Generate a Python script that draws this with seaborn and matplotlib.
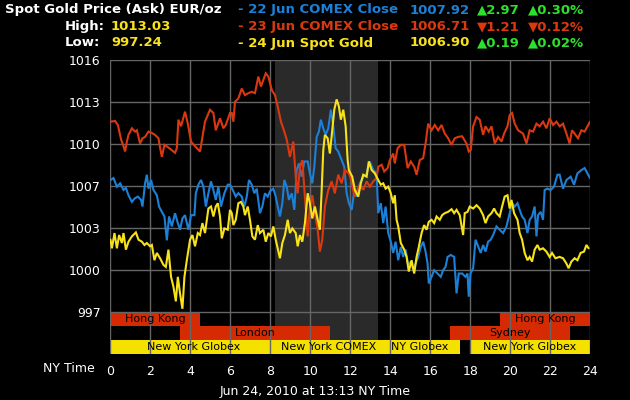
import matplotlib
matplotlib.use("Agg")
import matplotlib.pyplot as plt
import seaborn as sns
import pandas as pd

# --- data (hours NY time, EUR/oz) ---
blue_hours = [0.00, 0.15, 0.32, 0.48, 0.65, 0.77, 0.90, 1.07, 1.20, 1.37,
              1.53, 1.60, 1.73, 1.82, 1.90, 2.03, 2.15, 2.32, 2.43, 2.57,
              2.70, 2.82, 2.93, 3.07, 3.23, 3.37, 3.48, 3.60, 3.73, 3.90,
              4.03, 4.20, 4.27, 4.40, 4.53, 4.65, 4.77, 4.90, 5.03, 5.15,
              5.27, 5.40, 5.53, 5.70, 5.87,
              5.98, 6.15, 6.27, 6.40, 6.57, 6.70, 6.82, 6.93, 7.07, 7.20,
              7.32, 7.48, 7.60, 7.73, 7.87, 7.98, 8.15, 8.27, 8.37, 8.48,
              8.60, 8.70, 8.82, 8.93, 9.07, 9.20, 9.32, 9.43, 9.57, 9.70,
              9.87, 9.98, 10.10, 10.20, 10.32, 10.43, 10.53, 10.65, 10.77, 10.90,
              11.03, 11.15, 11.27, 11.40, 11.57, 11.70, 11.82, 11.93,
              12.07, 12.20, 12.32, 12.48, 12.65, 12.82, 12.98, 13.15, 13.32, 13.40,
              13.53, 13.65, 13.77, 13.90, 14.03, 14.15, 14.27, 14.40, 14.53, 14.65,
              14.77, 14.90, 15.03, 15.15, 15.27, 15.40, 15.53, 15.65, 15.77, 15.87,
              15.93, 16.07, 16.20, 16.37, 16.53, 16.65, 16.77, 16.87, 17.03, 17.20,
              17.32, 17.43, 17.60, 17.77, 17.87, 17.93,
              18.02, 18.15, 18.27, 18.40, 18.53, 18.65, 18.77, 18.90, 19.03, 19.15,
              19.32, 19.48, 19.65, 19.82, 19.98, 20.10, 20.23, 20.37, 20.48, 20.60,
              20.73, 20.87, 20.98, 21.10, 21.23, 21.32, 21.40, 21.53, 21.65, 21.73,
              21.87, 22.03, 22.20, 22.37, 22.48, 22.65, 22.82, 23.03, 23.20, 23.37,
              23.57, 23.73, 23.87, 24.00]
blue_vals = [1006.95, 1007.1, 1006.45, 1006.7, 1006.2, 1006.35, 1005.8, 1005.3, 1005.55, 1005.7,
             1005.45, 1004.95, 1006.7, 1007.35, 1006.3, 1006.95, 1006.2, 1005.8, 1004.95, 1004.55,
             1004.2, 1002.4, 1004.2, 1003.45, 1004.45, 1003.7, 1003.2, 1004.05, 1004.3, 1003.2,
             1004.3, 1004.3, 1005.95, 1006.6, 1006.95, 1006.45, 1004.95, 1005.95, 1006.85, 1006.2,
             1005.45, 1006.45, 1004.95, 1005.95, 1006.6,
             1006.6, 1006.1, 1005.7, 1005.95, 1005.7, 1004.95, 1005.7, 1006.95, 1006.6, 1005.95,
             1006.3, 1004.45, 1004.95, 1005.95, 1005.7, 1006.1, 1006.3, 1005.7, 1004.95, 1004.2,
             1005.2, 1006.95, 1006.45, 1005.45, 1005.95, 1004.7, 1007.7, 1008.2, 1007.2, 1008.35,
             1008.35, 1007.45, 1006.7, 1007.95, 1010.2, 1010.6, 1011.5, 1010.85, 1010.35, 1010.85,
             1012.25, 1011.0, 1009.35, 1009.1, 1008.45, 1007.95, 1005.95, 1005.2,
             1004.7, 1006.1, 1005.7, 1006.7, 1007.2, 1007.45, 1008.35, 1007.7, 1007.45, 1004.45,
             1005.2, 1003.7, 1004.95, 1002.95, 1002.3, 1001.45, 1002.3, 1000.9, 1001.9, 1001.15,
             1001.7, 1000.55, 1000.8, 1000.15, 1000.65, 1001.15, 1001.9, 1002.3, 1001.55, 1000.65,
             999.15, 999.65, 1000.15, 999.9, 999.65, 1000.15, 1000.4, 1001.15, 1001.3, 1001.15,
             998.4, 999.9, 999.9, 999.65, 999.9, 998.15,
             999.9, 1000.3, 1002.45, 1001.95, 1001.45, 1002.05, 1001.55, 1002.3, 1002.45, 1002.8,
             1003.45, 1003.2, 1002.95, 1003.45, 1004.45, 1005.2, 1004.95, 1005.2, 1004.7, 1004.2,
             1003.95, 1002.95, 1003.95, 1004.2, 1004.95, 1002.7, 1004.3, 1004.55, 1003.95, 1006.2,
             1006.3, 1006.2, 1006.45, 1007.35, 1007.35, 1006.3, 1006.95, 1007.2, 1006.6, 1007.45,
             1007.7, 1007.85, 1007.45, 1007.1]

red_hours = [0.00, 0.23, 0.37, 0.53, 0.65, 0.73, 0.82, 0.90, 1.07, 1.23,
             1.32, 1.48, 1.60, 1.73, 1.90, 2.07, 2.23, 2.40, 2.48, 2.57,
             2.70, 2.90, 3.07, 3.23, 3.32, 3.40, 3.53, 3.73, 3.87, 4.03,
             4.23, 4.48, 4.60, 4.73, 4.98, 5.15, 5.27, 5.48, 5.65, 5.77,
             5.98,
             6.07, 6.15, 6.23, 6.40, 6.57, 6.73, 6.90, 7.07, 7.23, 7.40,
             7.53, 7.65, 7.77, 7.90, 8.07, 8.23, 8.37, 8.53, 8.70, 8.82,
             8.98, 9.15, 9.27, 9.37, 9.48, 9.60, 9.73, 9.87, 9.98, 10.10,
             10.23, 10.37, 10.48, 10.60, 10.73, 10.90, 11.07, 11.23, 11.40, 11.57,
             11.73, 11.93,
             12.07, 12.20, 12.32, 12.48, 12.65, 12.82, 12.98, 13.15, 13.32, 13.40,
             13.57, 13.70, 13.87, 13.98, 14.15, 14.23, 14.37, 14.53, 14.70, 14.87,
             15.03, 15.20, 15.32, 15.48, 15.65, 15.77, 15.90, 16.07, 16.23, 16.40,
             16.57, 16.73, 16.90, 17.07, 17.23, 17.40, 17.60, 17.82, 17.93,
             18.03, 18.15, 18.32, 18.48, 18.65, 18.77, 18.93, 19.07, 19.23, 19.40,
             19.57, 19.70, 19.87, 19.98, 20.10, 20.23, 20.40, 20.65, 20.82, 20.98,
             21.15, 21.32, 21.48, 21.65, 21.82, 21.98, 22.15, 22.32, 22.48, 22.65,
             22.82, 22.98, 23.10, 23.23, 23.40, 23.57, 23.73, 24.00]
red_vals = [1011.35, 1011.4, 1011.1, 1010.0, 1009.5, 1009.1, 1009.85, 1010.35, 1010.85, 1010.6,
            1010.7, 1009.7, 1010.1, 1010.2, 1010.6, 1010.5, 1010.35, 1010.1, 1009.4, 1008.7,
            1009.6, 1009.4, 1009.2, 1009.0, 1009.35, 1011.5, 1011.0, 1012.1, 1011.2, 1009.85,
            1009.5, 1009.1, 1010.2, 1011.35, 1012.25, 1012.0, 1010.7, 1011.6, 1010.85, 1011.1,
            1012.0,
            1012.0, 1011.35, 1012.85, 1013.1, 1013.85, 1013.35, 1013.5, 1013.6, 1013.5, 1014.75,
            1014.0, 1014.5, 1015.0, 1014.75, 1013.75, 1013.35, 1012.5, 1011.35, 1010.6, 1010.0,
            1008.7, 1009.85, 1007.2, 1005.95, 1007.95, 1008.45, 1005.7, 1002.7, 1004.95, 1005.8,
            1004.45, 1003.2, 1001.55, 1002.45, 1004.95, 1006.2, 1006.85, 1005.95, 1007.35, 1006.7,
            1007.7, 1007.45,
            1006.85, 1005.7, 1006.1, 1006.6, 1006.2, 1006.85, 1006.45, 1006.85, 1007.1, 1007.95,
            1008.1, 1007.6, 1007.85, 1008.45, 1008.95, 1008.2, 1009.35, 1009.6, 1009.6, 1007.85,
            1008.35, 1007.95, 1007.35, 1008.45, 1008.6, 1009.7, 1011.2, 1010.7, 1011.1, 1010.7,
            1011.1, 1010.45, 1010.1, 1009.6, 1010.1, 1010.2, 1010.25, 1009.7, 1009.1,
            1009.2, 1011.0, 1011.7, 1011.5, 1010.35, 1011.0, 1010.6, 1011.0, 1009.7, 1010.2,
            1009.85, 1010.45, 1011.0, 1011.85, 1012.0, 1011.2, 1010.7, 1010.45, 1009.7, 1010.7,
            1010.6, 1011.2, 1011.0, 1011.35, 1010.85, 1011.6, 1011.1, 1011.35, 1011.0, 1011.2,
            1010.45, 1009.7, 1010.7, 1010.45, 1010.1, 1010.7, 1010.6, 1011.35]

yellow_hours = [0.00, 0.07, 0.20, 0.32, 0.43, 0.57, 0.65, 0.77, 0.90, 1.07,
                1.27, 1.40, 1.57, 1.70, 1.82, 1.98, 2.07, 2.20, 2.32, 2.48,
                2.65, 2.77, 2.90, 3.03, 3.15, 3.27, 3.37, 3.48, 3.60, 3.70,
                3.82, 3.98, 4.10, 4.23, 4.37, 4.48, 4.60, 4.73, 4.90, 5.03,
                5.15, 5.27, 5.37, 5.48, 5.57, 5.70, 5.87, 5.98,
                6.07, 6.15, 6.27, 6.40, 6.53, 6.65, 6.73, 6.87, 6.98, 7.10,
                7.23, 7.37, 7.48, 7.65, 7.77, 7.90, 8.03, 8.15, 8.27, 8.37,
                8.48, 8.60, 8.73, 8.87, 8.98, 9.10, 9.27, 9.37, 9.48, 9.60,
                9.73, 9.87, 9.98, 10.10, 10.23, 10.37, 10.48, 10.57, 10.65, 10.73,
                10.87, 10.98, 11.10, 11.20, 11.32, 11.43, 11.53, 11.65, 11.77, 11.87,
                11.93,
                12.10, 12.23, 12.40, 12.53, 12.65, 12.82, 12.93, 13.07, 13.23, 13.40,
                13.53, 13.65, 13.77, 13.90, 14.03, 14.15, 14.23, 14.32, 14.40, 14.53,
                14.70, 14.82, 14.93, 15.07, 15.20, 15.32, 15.43, 15.57, 15.70, 15.82,
                15.93, 16.07, 16.20, 16.32, 16.48, 16.60, 16.73, 16.90, 17.07, 17.20,
                17.32, 17.48, 17.65, 17.73, 17.87, 17.98,
                18.15, 18.32, 18.48, 18.65, 18.77, 18.90, 19.07, 19.20, 19.32, 19.48,
                19.60, 19.73, 19.87, 19.98, 20.07, 20.20, 20.37, 20.48, 20.60, 20.73,
                20.87, 20.98, 21.10, 21.23, 21.37, 21.48, 21.65, 21.82, 21.98, 22.10,
                22.27, 22.48, 22.65, 22.82, 22.93, 23.07, 23.23, 23.37, 23.53, 23.70,
                23.82, 23.93]
yellow_vals = [1002.45, 1001.8, 1002.95, 1001.8, 1002.8, 1002.2, 1002.95, 1001.7, 1002.3, 1002.7,
               1003.0, 1002.45, 1002.3, 1002.05, 1002.2, 1001.95, 1002.05, 1000.9, 1001.45, 1001.05,
               1000.55, 1000.4, 1001.7, 999.65, 998.9, 997.8, 999.65, 998.4, 997.24, 999.65,
               1000.9, 1002.45, 1002.8, 1001.95, 1002.95, 1002.8, 1003.7, 1002.95, 1004.8, 1004.95,
               1004.2, 1004.95, 1005.2, 1004.2, 1002.55, 1003.3, 1003.2, 1004.7,
               1004.45, 1003.55, 1003.95, 1005.2, 1005.3, 1004.95, 1004.3, 1004.95, 1003.95, 1002.7,
               1002.45, 1003.55, 1002.95, 1003.2, 1002.3, 1002.95, 1002.7, 1003.45, 1002.45, 1001.8,
               1001.05, 1002.2, 1002.8, 1003.95, 1002.95, 1003.3, 1002.95, 1001.95, 1002.8, 1002.3,
               1003.7, 1005.95, 1005.2, 1004.05, 1004.95, 1003.95, 1003.2, 1006.2, 1009.2, 1010.35,
               1010.1, 1008.95, 1010.7, 1012.25, 1013.03, 1012.5, 1011.5, 1012.25, 1011.0, 1008.45,
               1007.7,
               1007.2, 1006.2, 1005.7, 1006.7, 1007.35, 1007.2, 1008.35, 1007.7, 1007.45, 1006.95,
               1006.6, 1006.7, 1006.3, 1006.45, 1005.95, 1005.2, 1005.8, 1003.95, 1003.45, 1002.2,
               1001.7, 1001.15, 1000.05, 1000.9, 999.9, 1001.15, 1001.9, 1002.95, 1003.55, 1003.2,
               1003.8, 1003.95, 1003.7, 1004.2, 1003.95, 1004.3, 1004.45, 1004.55, 1004.75, 1004.45,
               1004.7, 1004.3, 1002.8, 1004.45, 1004.55, 1004.95,
               1004.8, 1005.05, 1004.8, 1004.3, 1003.7, 1004.2, 1004.45, 1004.8, 1004.45, 1004.2,
               1004.95, 1005.7, 1005.8, 1004.8, 1005.45, 1004.45, 1003.95, 1002.95, 1002.45, 1001.45,
               1000.9, 1001.15, 1000.8, 1001.7, 1002.05, 1001.7, 1001.8, 1001.55, 1001.15, 1001.45,
               1001.05, 1001.15, 1001.05, 1000.65, 1000.3, 1000.8, 1001.05, 1000.9, 1001.45, 1001.55,
               1002.05, 1001.8]

series_names = ["22 Jun COMEX Close", "23 Jun COMEX Close", "24 Jun Spot Gold"]
series_colors = ["#1b80d8", "#dc3810", "#f8e31a"]

# trading sessions along the bottom
session_names = ["Hong Kong", "London", "New York Globex", "New York COMEX",
                 "NY Globex", "Sydney", "Hong Kong", "New York Globex"]
session_start = [0, 3.5, 0, 8.33, 13.5, 17, 19.5, 18]
session_end = [4.5, 11, 8.33, 13.5, 17.5, 23, 24, 24]
session_row = [0, 1, 2, 2, 2, 1, 0, 2]

comex_open, comex_close = 8.25, 13.37

y_ticks = [997, 1000.17, 1003.33, 1006.5, 1009.67, 1012.83, 1016]
y_labels = ["997", "1000", "1003", "1007", "1010", "1013", "1016"]
x_ticks = list(range(0, 25, 2))

# header numbers
close_vals = ["1007.92", "1006.71", "1006.90"]
change_vals = ["\u25b22.97", "\u25bc1.21", "\u25b20.19"]
change_pcts = ["\u25b20.30%", "\u25bc0.12%", "\u25b20.02%"]
change_colors = ["#2ee02e", "#dc3810", "#2ee02e"]
high_val, low_val = "1013.03", "997.24"

df = pd.concat([
    pd.DataFrame({"hour": blue_hours, "price": blue_vals, "series": series_names[0]}),
    pd.DataFrame({"hour": red_hours, "price": red_vals, "series": series_names[1]}),
    pd.DataFrame({"hour": yellow_hours, "price": yellow_vals, "series": series_names[2]}),
])

sns.set_theme(style="dark")
plt.rcParams['font.family'] = ['DejaVu Sans']

W, H = 630, 400
fig = plt.figure(figsize=(6.3, 4), dpi=100, facecolor="black")
ax = fig.add_axes([110.5 / W, 1 - 354 / H, 479.5 / W, 294 / H])
ax.set_facecolor("black")

ymin, ymax = 993.83, 1016
row_h = (997 - ymin) / 3

ax.axvspan(comex_open, comex_close, color="#2a2a2a", lw=0, zorder=0)

for name, s, e, r in zip(session_names, session_start, session_end, session_row):
    c = "#f5e100" if r == 2 else "#d62b02"
    yc = 997 - row_h * (r + 0.5)
    ax.barh(yc, e - s, left=s, height=row_h, color=c, linewidth=0, zorder=1)
    ax.text((s + e) / 2, yc, name, ha="center", va="center", fontsize=8, color="black", zorder=4)

sns.lineplot(data=df, x="hour", y="price", hue="series", hue_order=series_names,
             palette=series_colors, estimator=None, sort=False, legend=False,
             linewidth=1.5, ax=ax)
for l in ax.lines:
    l.set_zorder(3)
    l.set_solid_joinstyle("miter")

ax.set_xlim(0, 24)
ax.set_ylim(ymin, ymax)
ax.set_xticks(x_ticks)
ax.set_yticks(y_ticks)
ax.set_yticklabels(y_labels)
ax.set_xlabel("")
ax.set_ylabel("")
ax.set_axisbelow(False)
ax.grid(True, color="#666666", linewidth=1.0)
for sp in ax.spines.values():
    sp.set_visible(False)
ax.tick_params(axis="both", colors="#666666", labelcolor="white", labelsize=9, width=1)
ax.tick_params(axis="x", length=4, pad=4)
ax.tick_params(axis="y", length=5, pad=2)

def ftext(px, py, s, color="white", ha="left", size=9.5, weight="bold"):
    fig.text(px / W, 1 - py / H, s, color=color, ha=ha, va="center", fontsize=size, fontweight=weight)

ftext(5, 10, "Spot Gold Price (Ask) EUR/oz")
ftext(65, 26.5, "High:")
ftext(111, 26.5, high_val, color=series_colors[2])
ftext(65, 43, "Low:")
ftext(111, 43, low_val, color=series_colors[2])
for i, row_y in enumerate([10, 26.5, 43]):
    ftext(238, row_y, "- " + series_names[i], color=series_colors[i])
    ftext(410, row_y, close_vals[i], color=series_colors[i])
    ftext(477, row_y, change_vals[i], color=change_colors[i])
    ftext(528, row_y, change_pcts[i], color=change_colors[i])

ftext(95, 368, "NY Time", ha="right", size=9, weight="normal")
ftext(315, 391, "Jun 24, 2010 at 13:13 NY Time", ha="center", size=9, weight="normal")

fig.savefig("out.png", dpi=100, facecolor="black")
